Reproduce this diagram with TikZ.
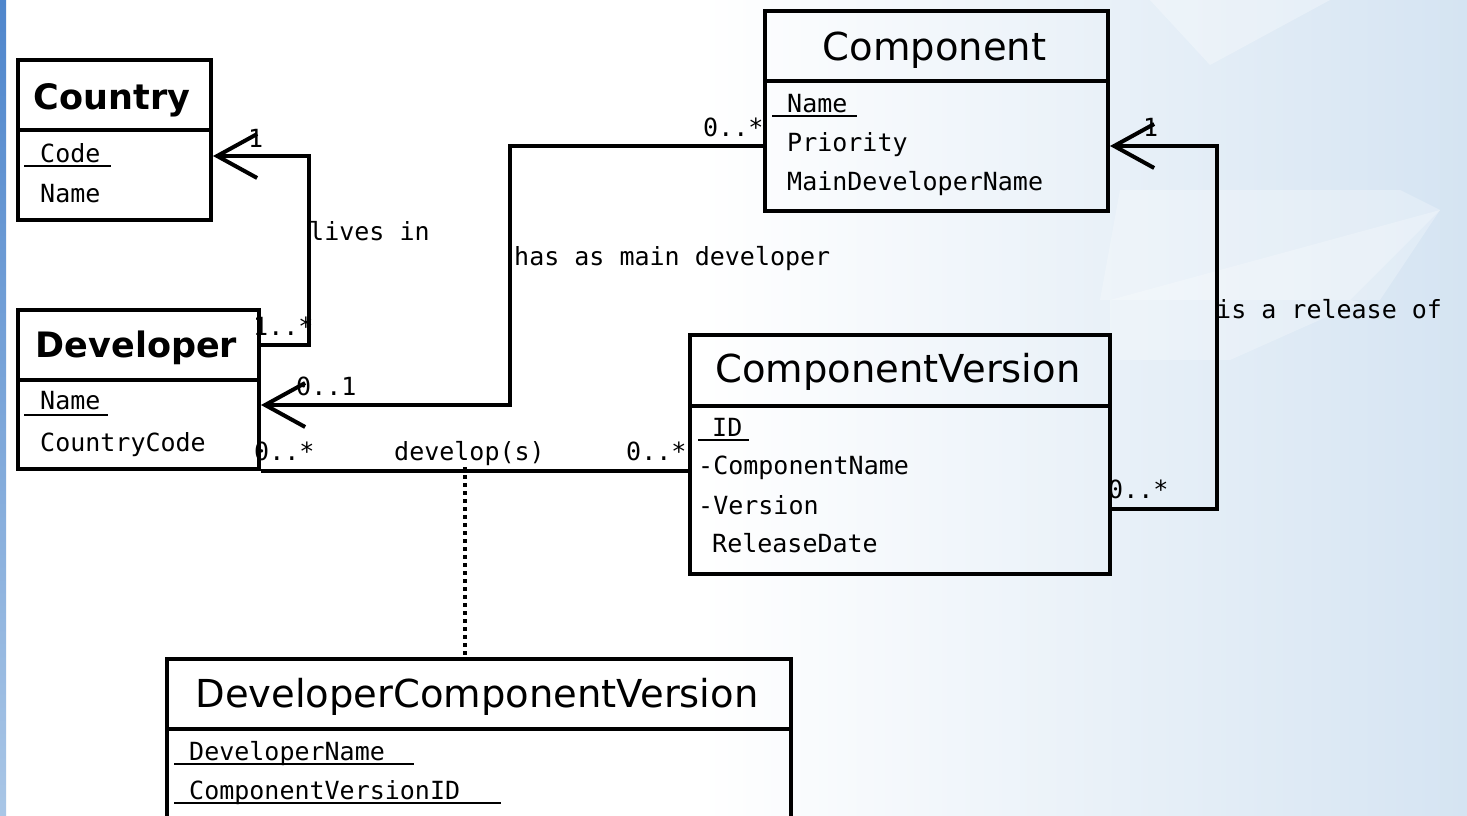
\documentclass[tikz,border=0pt]{standalone}
\usepackage{fontspec}
\setmainfont{DejaVu Sans}
\newfontfamily\attrfont{DejaVu Sans Mono}
\usetikzlibrary{arrows.meta,calc}
\definecolor{bgblue}{HTML}{D5E4F2}
\definecolor{stripA}{HTML}{4F86CC}
\definecolor{stripB}{HTML}{A9C6E6}
\begin{document}
\begin{tikzpicture}[x=1pt,y=-1pt,
  cls/.style={draw, line width=4pt, inner sep=0pt, anchor=north west},
  ttlbold/.style={anchor=base, inner sep=0pt, font=\fontsize{35}{40}\selectfont\bfseries},
  ttl/.style={anchor=base, inner sep=0pt, font=\fontsize{38.5}{44}\selectfont},
  attr/.style={anchor=base west, inner sep=0pt, font=\attrfont\fontsize{25}{28}\selectfont},
  lbl/.style={anchor=base west, inner sep=0pt, font=\attrfont\fontsize{25}{28}\selectfont},
  conn/.style={line width=4pt, -{Straight Barb[length=40pt,width=44pt,line width=4pt]}},
  plain/.style={line width=4pt},
  uline/.style={line width=1.6pt},
  dots/.style={line width=4pt, dash pattern=on 4pt off 4pt}
]
\clip (0,0) rectangle (1467,816);
\fill[white] (0,0) rectangle (1467,816);
\shade[left color=white, right color=bgblue] (700,0) rectangle (1467,816);
\fill[white, opacity=0.3] (1150,0) -- (1330,0) -- (1210,65) -- cycle;
\fill[white, opacity=0.25] (1120,190) -- (1400,190) -- (1440,210) -- (1380,300) -- (1100,300) -- cycle;
\fill[white, opacity=0.25] (1110,300) -- (1440,210) -- (1350,300) -- (1360,302) -- (1230,360) -- (1110,360) -- cycle;
\shade[top color=stripA, bottom color=stripB] (0,0) rectangle (6,816);

% Country
\node[cls, minimum width=193, minimum height=70] (countryT) at (16,58) {};
\node[cls, minimum width=193, minimum height=90] (countryA) at (16,128) {};
\node[ttlbold] (countryN) at (112,110) {Country};
\node[attr] (countryCode) at (40,162) {Code};
\node[attr] (countryName) at (40,202) {Name};
\draw[uline] (24,166) -- (111,166);

% Developer
\node[cls, minimum width=241, minimum height=70] (devT) at (16,308) {};
\node[cls, minimum width=241, minimum height=89] (devA) at (16,378) {};
\node[ttlbold] (devN) at (136.5,357) {Developer};
\node[attr] (devName) at (40,409) {Name};
\node[attr] (devCC) at (40,451) {CountryCode};
\draw[uline] (24,415) -- (108,415);

% Component
\node[cls, minimum width=343, minimum height=70] (compT) at (763,9) {};
\node[cls, minimum width=343, minimum height=130] (compA) at (763,79) {};
\node[ttl] (compN) at (934.5,60) {Component};
\node[attr] (compName) at (787,112) {Name};
\node[attr] (compPrio) at (787,151) {Priority};
\node[attr] (compMain) at (787,190) {MainDeveloperName};
\draw[uline] (772,116) -- (857,116);

% ComponentVersion
\node[cls, minimum width=420, minimum height=71] (cvT) at (688,333) {};
\node[cls, minimum width=420, minimum height=168] (cvA) at (688,404) {};
\node[ttl] (cvN) at (898,382) {ComponentVersion};
\node[attr] (cvID) at (712,436) {ID};
\node[attr] (cvCN) at (698,474) {-ComponentName};
\node[attr] (cvV) at (698,514) {-Version};
\node[attr] (cvRD) at (712,552) {ReleaseDate};
\draw[uline] (698,440) -- (749,440);

% DeveloperComponentVersion
\node[cls, minimum width=624, minimum height=70] (dcvT) at (165,657) {};
\node[cls, minimum width=624, minimum height=110] (dcvA) at (165,727) {};
\node[ttl] (dcvN) at (477,707) {DeveloperComponentVersion};
\node[attr] (dcvDN) at (189,760) {DeveloperName};
\node[attr] (dcvCV) at (189,799) {ComponentVersionID};
\draw[uline] (174,764) -- (414,764);
\draw[uline] (174,803) -- (501,803);

% lives in
\draw[conn] (devT.east) -- ++(48,0) |- ($(countryA.east)+(0,-19)$);
\node[lbl] (l1a) at (248,147) {1};
\node[lbl] (l1b) at (253,335) {1..*};
\node[lbl] (l1c) at (309,240) {lives in};

% has as main developer
\draw[conn] (compA.west) -- ++(-253,0) |- ($(devA.east)+(0,-19.5)$);
\node[lbl] (l2a) at (703,136) {0..*};
\node[lbl] (l2b) at (296,395) {0..1};
\node[lbl] (l2c) at (514,265) {has as main developer};

% is a release of
\draw[conn] ($(cvA.east)+(0,19)$) -- ++(105,0) |- (compA.east);
\node[lbl] (l3a) at (1143,136) {1};
\node[lbl] (l3b) at (1108,498) {0..*};
\node[lbl] (l3c) at (1216,318) {is a release of};

% develop(s)
\draw[plain] (devA.south east) -- (devA.south east -| cvA.west);
\node[lbl] (l4a) at (254,460) {0..*};
\node[lbl] (l4b) at (394,460) {develop(s)};
\node[lbl] (l4c) at (626,460) {0..*};
\coordinate (dm) at (465,467);
\draw[dots] (dm) -- (dm |- dcvT.north);
\end{tikzpicture}
\end{document}
